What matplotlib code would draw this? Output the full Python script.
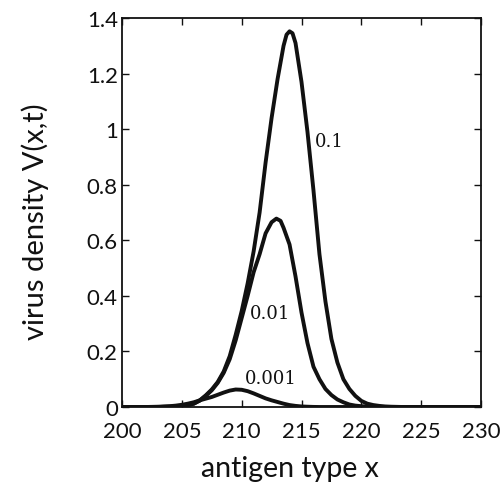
import matplotlib
matplotlib.use("Agg")
import matplotlib.pyplot as plt

# antigen type x (abscissa) and virus density
x_01 = [200, 202, 203, 203.5, 204, 204.5, 205, 205.5, 206, 206.5, 207, 207.5,
        208, 208.5, 209, 209.5, 210, 210.5, 211, 211.5, 212, 212.5, 213,
        213.5, 213.75, 214, 214.25, 214.5, 215, 215.5, 216, 216.5, 217, 217.5,
        218, 218.5, 219, 219.5, 220, 220.5, 221, 221.5, 222, 222.5, 223,
        223.5, 230]
v_01 = [0, 0, 0, 0.0005, 0.001, 0.002, 0.004, 0.007, 0.012, 0.024, 0.042,
        0.063, 0.09, 0.128, 0.183, 0.26, 0.345, 0.445, 0.56, 0.70, 0.88,
        1.04, 1.18, 1.30, 1.34, 1.352, 1.345, 1.31, 1.17, 0.99, 0.78, 0.55,
        0.38, 0.245, 0.16, 0.10, 0.065, 0.04, 0.022, 0.012, 0.007, 0.004,
        0.002, 0.001, 0.0005, 0, 0]

x_001 = [200, 203, 203.5, 204, 204.5, 205, 205.5, 206, 206.5, 207, 207.5,
         208, 208.5, 209, 209.5, 210, 210.5, 211, 211.5, 212, 212.5, 212.9,
         213.25, 213.5, 214, 214.5, 215, 215.5, 216, 216.5, 217, 217.5, 218,
         218.5, 219, 219.5, 220, 220.5, 221, 221.5, 230]
v_001 = [0, 0, 0.0005, 0.001, 0.002, 0.004, 0.007, 0.012, 0.023, 0.04,
         0.06, 0.087, 0.123, 0.172, 0.24, 0.32, 0.40, 0.485, 0.55, 0.625,
         0.665, 0.678, 0.67, 0.645, 0.585, 0.47, 0.34, 0.23, 0.145, 0.10,
         0.065, 0.043, 0.027, 0.017, 0.009, 0.005, 0.003, 0.0015, 0.0005,
         0, 0]

x_0001 = [200, 202, 202.5, 203, 203.5, 204, 204.5, 205, 205.5, 206, 206.5,
          207, 207.5, 208, 208.5, 209, 209.5, 210, 210.5, 211, 211.5, 212,
          212.5, 213, 213.5, 214, 214.5, 215, 215.5, 216, 216.5, 230]
v_0001 = [0, 0, 0.0005, 0.001, 0.002, 0.003, 0.005, 0.008, 0.012, 0.017,
          0.024, 0.030, 0.036, 0.044, 0.052, 0.059, 0.063, 0.062, 0.057,
          0.049, 0.040, 0.031, 0.024, 0.018, 0.012, 0.007, 0.004, 0.002,
          0.001, 0.0003, 0, 0]

curve_labels = ["0.1", "0.01", "0.001"]
label_x = [216.1, 210.7, 210.25]
label_y = [0.957, 0.34, 0.103]

x_ticks = [200, 205, 210, 215, 220, 225, 230]
y_ticks = [0, 0.2, 0.4, 0.6, 0.8, 1.0, 1.2, 1.4]
y_tick_labels = ["0", "0.2", "0.4", "0.6", "0.8", "1", "1.2", "1.4"]

W, H = 502, 485
fig = plt.figure(figsize=(W / 100, H / 100), dpi=100)
# axes box: left 122px, right 481px, top 19px, bottom 408px
ax = fig.add_axes([122 / W, (H - 408) / H, 359 / W, 389 / H])

col = "#111111"
for xs, vs in [(x_01, v_01), (x_001, v_001), (x_0001, v_0001)]:
    ax.plot(xs, vs, color=col, lw=2.8, solid_capstyle="round")

for txt, lx, ly in zip(curve_labels, label_x, label_y):
    ax.text(lx, ly, txt, fontsize=13, family="DejaVu Serif", color=col,
            ha="left", va="center")

ax.set_xlim(200, 230)
ax.set_ylim(0, 1.4)
ax.set_xticks(x_ticks)
ax.set_xticklabels([str(t) for t in x_ticks], family="Lato", fontsize=16)
ax.set_yticks(y_ticks)
ax.set_yticklabels(y_tick_labels, family="Lato", fontsize=16)
ax.tick_params(axis="x", pad=10)
ax.tick_params(axis="y", pad=3)
ax.tick_params(direction="in", length=5, width=1, top=True, right=True,
               colors=col)
for s in ax.spines.values():
    s.set_linewidth(1.3)
    s.set_color(col)

xl = ax.set_xlabel("antigen type x", family="Lato", fontsize=19, color=col)
yl = ax.set_ylabel("virus density V(x,t)", family="Lato", fontsize=19,
                   color=col)

# scale the label sizes so they span what they span in the picture
fig.canvas.draw()
r = fig.canvas.get_renderer()
xl.set_fontsize(xl.get_fontsize() * 178 / xl.get_window_extent(r).width)
yl.set_fontsize(yl.get_fontsize() * 237 / yl.get_window_extent(r).height)
xl.set_va("baseline")
yl.set_va("center")
ax.xaxis.set_label_coords((290 - 122) / 359, (8 - (H - 408)) / 389)
ax.yaxis.set_label_coords((35 - 122) / 359, (H - 222 - (H - 408)) / 389)

fig.savefig("out.png", dpi=100, facecolor="white")
